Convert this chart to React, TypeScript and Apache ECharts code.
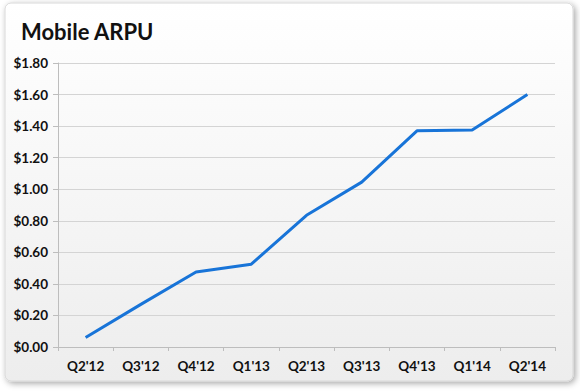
import React, { useEffect, useRef } from "react";
import * as echarts from "echarts";

const categories = ["Q2'12", "Q3'12", "Q4'12", "Q1'13", "Q2'13", "Q3'13", "Q4'13", "Q1'14", "Q2'14"];
const arpu = [0.06, 0.27, 0.475, 0.525, 0.835, 1.045, 1.37, 1.375, 1.6];
const title = "Mobile ARPU";

export default function App() {
  const ref = useRef<HTMLDivElement>(null);
  useEffect(() => {
    const chart = echarts.init(ref.current!, null, { renderer: "svg" });
    const font = "Lato, 'Open Sans', sans-serif";
    chart.setOption({
      animation: false,
      backgroundColor: "#ffffff",
      graphic: [
        {
          type: "rect",
          z: -10,
          shape: { x: 5, y: 3, width: 568, height: 378, r: 6 },
          style: {
            fill: new echarts.graphic.LinearGradient(0, 0, 0, 1, [
              { offset: 0, color: "#ffffff" },
              { offset: 1, color: "#ededed" },
            ]),
            stroke: "#d8d8d8",
            lineWidth: 1,
            shadowBlur: 6,
            shadowOffsetX: 2,
            shadowOffsetY: 2,
            shadowColor: "rgba(0,0,0,0.35)",
          },
        },
      ],
      title: {
        text: title,
        left: 16,
        top: 15,
        textStyle: { fontFamily: font, fontWeight: "bold", fontSize: 22, color: "#111" },
      },
      grid: { left: 58, right: 25, top: 63, bottom: 44 },
      xAxis: {
        type: "category",
        data: categories,
        boundaryGap: true,
        axisLine: { lineStyle: { color: "#bdbdbd", width: 1 } },
        axisTick: { show: true, length: 4, lineStyle: { color: "#bdbdbd" } },
        axisLabel: { fontFamily: font, fontWeight: "bold", fontSize: 13.5, color: "#111", margin: 12 },
      },
      yAxis: {
        type: "value",
        min: 0,
        max: 1.8,
        interval: 0.2,
        axisLine: { show: true, lineStyle: { color: "#bdbdbd", width: 1 } },
        axisTick: { show: true, length: 5, lineStyle: { color: "#bdbdbd" } },
        splitLine: { lineStyle: { color: "#d4d4d4", width: 1 } },
        axisLabel: {
          fontFamily: font,
          fontWeight: "bold",
          fontSize: 13.5,
          color: "#111",
          margin: 10,
          formatter: (v: number) => "$" + v.toFixed(2),
        },
      },
      series: [
        {
          type: "line",
          data: arpu,
          symbol: "none",
          lineStyle: { color: "#1874d8", width: 3 },
        },
      ],
    });
    return () => chart.dispose();
  }, []);
  return <div ref={ref} style={{ position: "fixed", left: 0, top: 0, width: 580, height: 391 }} />;
}
